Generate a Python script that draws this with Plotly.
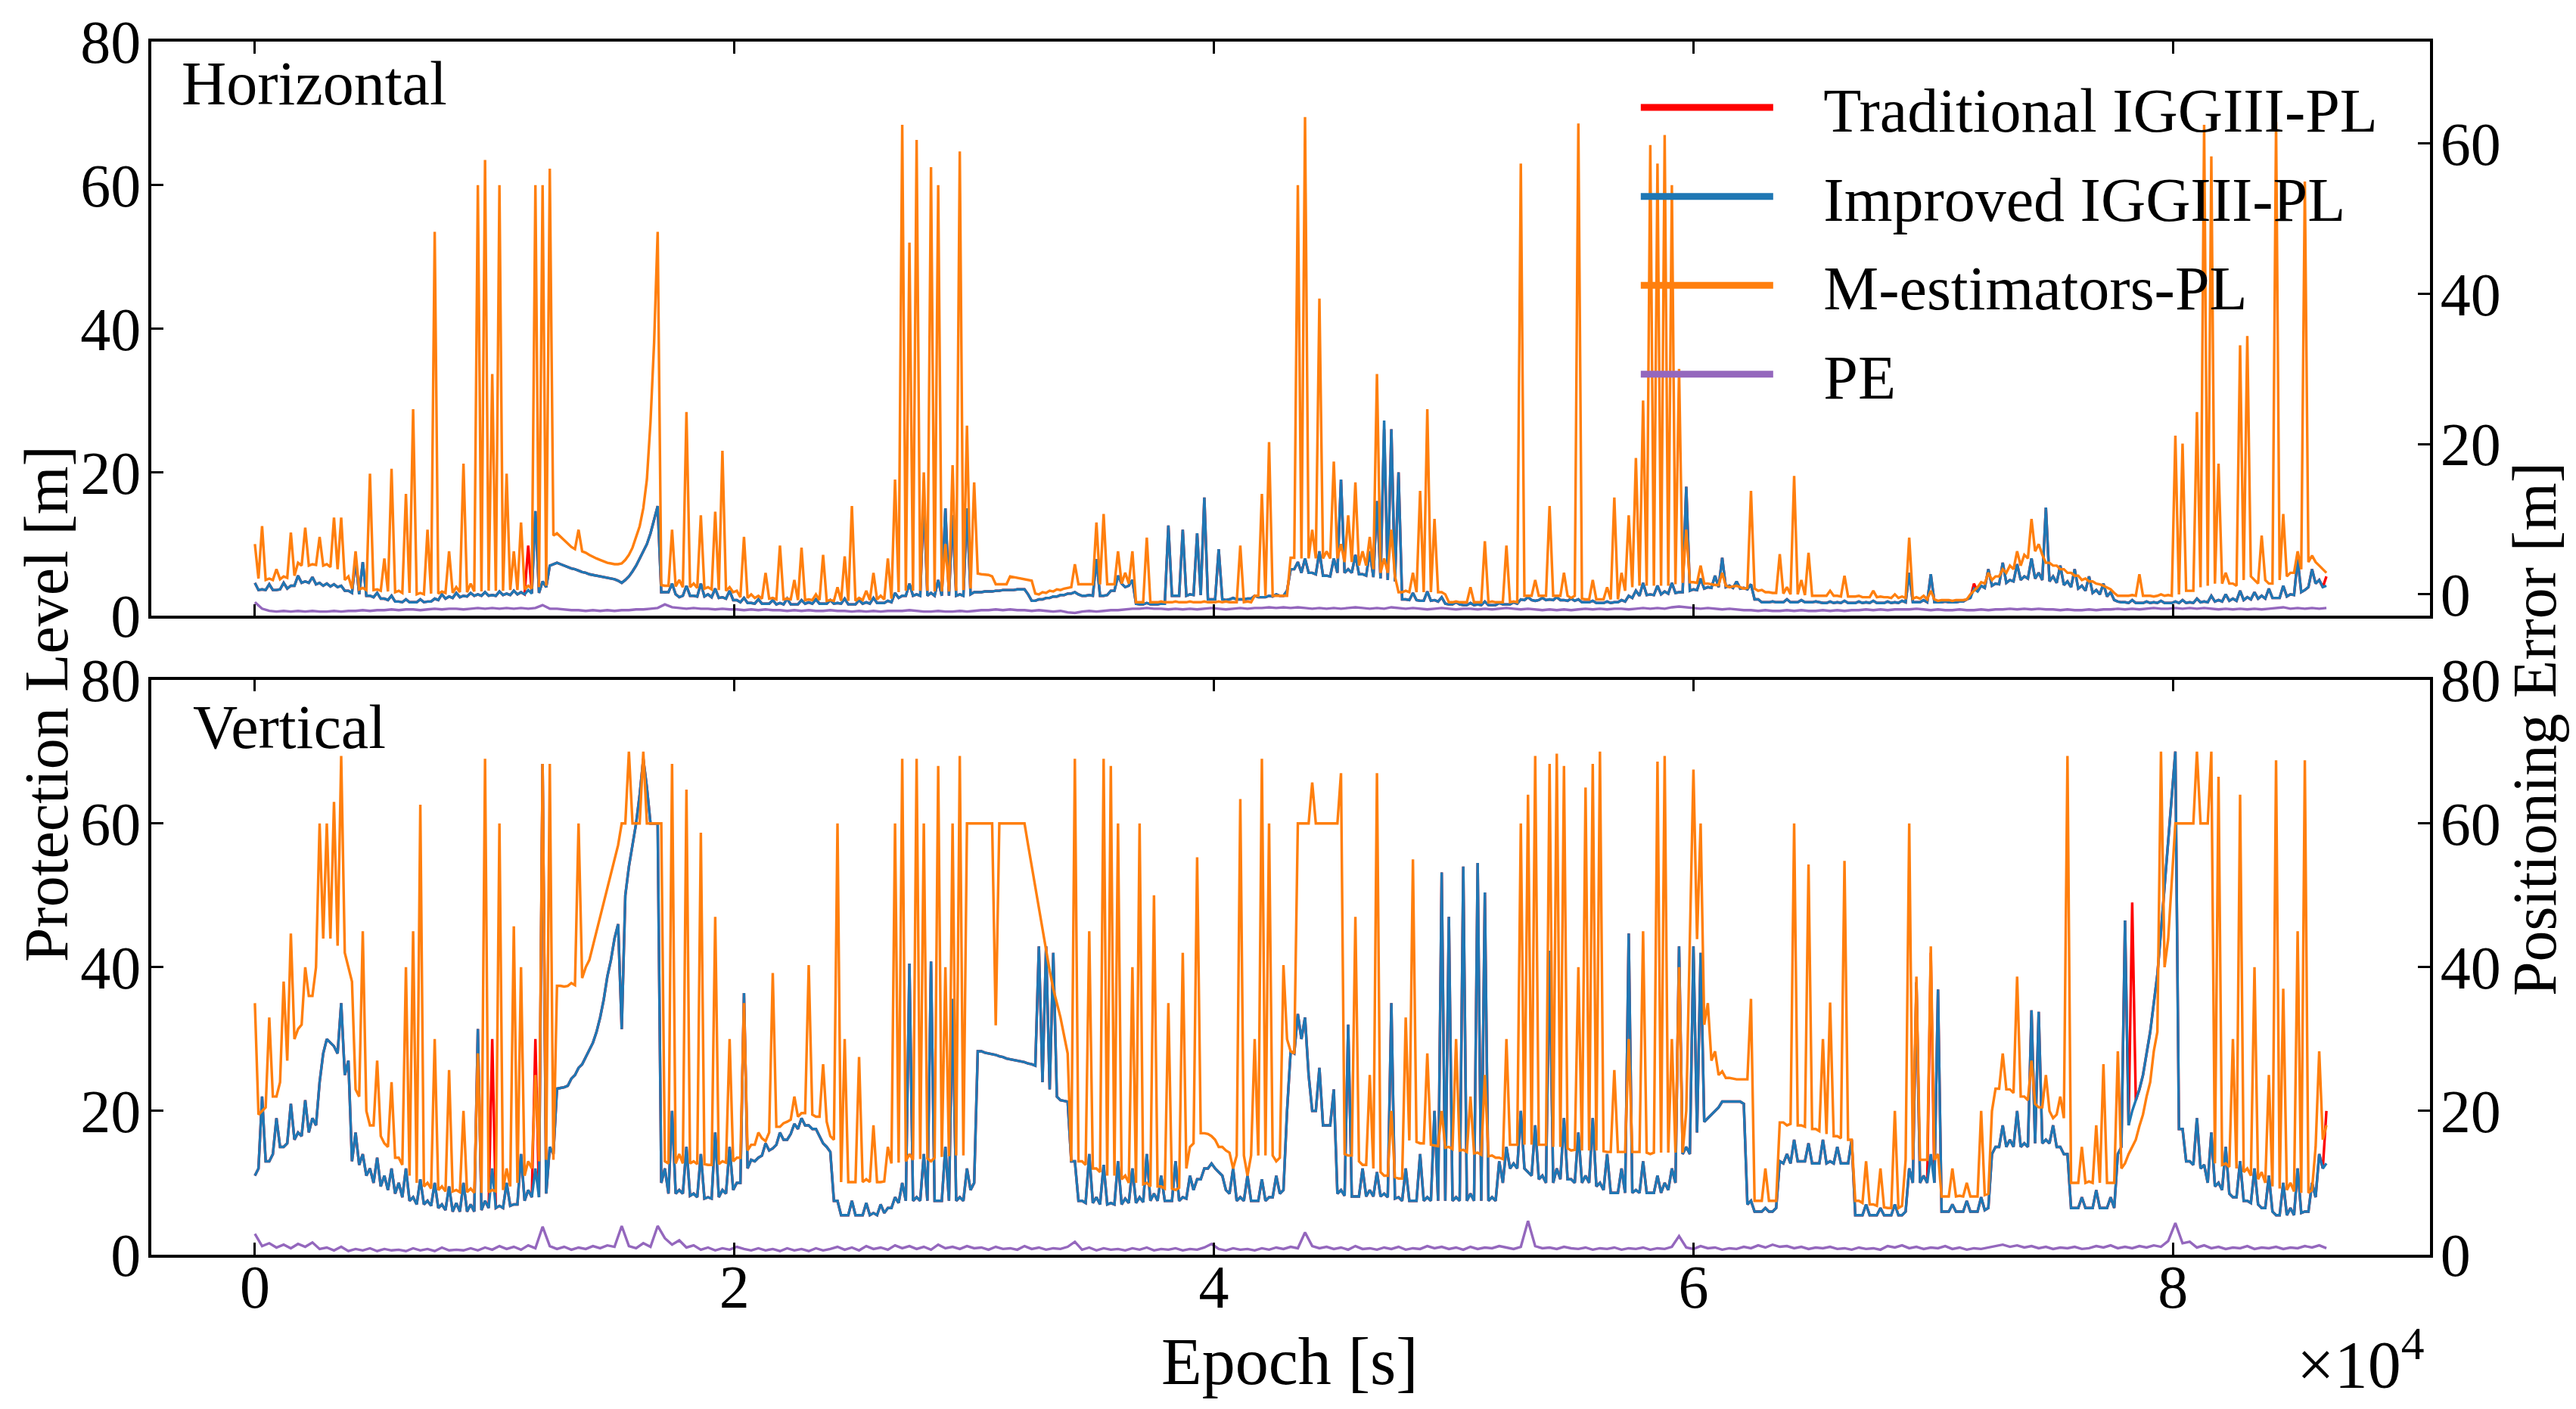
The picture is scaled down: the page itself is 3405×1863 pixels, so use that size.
import plotly.graph_objects as go

# Epoch grid [s] (main samples) and half-step samples between them
epoch = list(range(0, 86401, 300))
epoch_mid = list(range(150, 86400, 300))

# ---------------- Horizontal panel ----------------
trad_h = [
4.6, 3.7, 4.4, 3.6, 4.6, 4.2, 5.6, 4.8, 5.4, 4.6,
4.5, 4.4, 4.2, 3.5, 7.9, 7.5, 2.8, 3.2, 2.4, 2.8,
2, 2.3, 1.9, 2.3, 2, 2.4, 3, 2.7, 3.2, 2.8,
3.2, 3, 3.3, 2.9, 3.4, 3.1, 3.5, 3.3, 9.8, 14.6,
4.8, 7, 7.4, 7, 6.6, 6.3, 6, 5.7, 5.5, 5.3,
5.1, 4.6, 5.5, 7, 9, 11.5, 15.3, 3.3, 4.5, 2.6,
4.2, 2.8, 4.5, 3, 3.8, 2.6, 3.5, 2.2, 2.5, 1.8,
2.3, 1.7, 2.2, 1.8, 2.4, 1.6, 2.2, 1.9, 2.3, 1.7,
2.2, 1.8, 2.4, 1.6, 2.2, 1.9, 2.5, 1.8, 2.1, 3.2,
2.8, 4.5, 3, 16.5, 3.2, 5, 15, 14, 3, 15,
3.3, 3.3, 3.4, 3.5, 3.6, 3.6, 3.7, 3.7, 2.1, 2.3,
2.5, 2.7, 2.9, 3.1, 3.3, 2.8, 2.9, 7.9, 2.8, 3.5,
5.6, 4, 5, 1.6, 1.8, 1.6, 1.7, 12.6, 2.8, 12,
3, 11.5, 16.5, 2.3, 9.3, 2.2, 2.5, 2.3, 2.4, 2.8,
2.6, 2.8, 3, 2.8, 6.5, 7.5, 8, 6, 9, 5.6,
8, 19, 6.5, 8.5, 5.8, 9, 16, 26, 26, 20,
2.3, 3.2, 2.1, 3.4, 2.2, 2.6, 1.6, 1.9, 1.5, 1.8,
1.6, 2, 1.5, 1.8, 1.6, 1.9, 2.3, 2.6, 2.1, 2.5,
2.3, 2.6, 2.2, 2.4, 2.3, 1.9, 2.1, 1.8, 2, 1.9,
2.2, 2.8, 3.5, 4.6, 3, 4.2, 3.4, 4.6, 3.3, 18,
3.7, 5.2, 4, 5.6, 8.1, 4.2, 4.8, 3.9, 4.4, 2.3,
1.9, 2, 1.9, 2.3, 1.9, 2.2, 1.9, 2, 1.8, 2,
1.9, 2.1, 1.8, 2, 1.9, 2.1, 1.8, 2, 1.9, 2.1,
6, 1.9, 2.2, 5.8, 1.9, 2, 1.9, 2, 2.3, 4.5,
4.2, 6.5, 4.5, 7.4, 5, 7.2, 5.5, 8, 6, 15.1,
5.5, 7, 4.8, 6.5, 4.2, 5.5, 3.6, 4.5, 3.3, 2,
1.9, 2.2, 1.8, 2, 1.9, 2.1, 1.8, 2, 2.2, 1.9,
2.4, 2, 2.8, 2.2, 3, 2.4, 3.5, 2.6, 3.3, 2.8,
3.8, 2.5, 4.2, 3, 7.9, 3.6, 6.5, 5, 5.5]

improved_h = [
4.6, 3.7, 4.4, 3.6, 4.6, 4.2, 5.6, 4.8, 5.4, 4.6,
4.5, 4.4, 4.2, 3.5, 7.9, 7.5, 2.8, 3.2, 2.4, 2.8,
2, 2.3, 1.9, 2.3, 2, 2.4, 3, 2.7, 3.2, 2.8,
3.2, 3, 3.3, 2.9, 3.4, 3.1, 3.5, 3.3, 3.6, 14.6,
4.8, 7, 7.4, 7, 6.6, 6.3, 6, 5.7, 5.5, 5.3,
5.1, 4.6, 5.5, 7, 9, 11.5, 15.3, 3.3, 4.5, 2.6,
4.2, 2.8, 4.5, 3, 3.8, 2.6, 3.5, 2.2, 2.5, 1.8,
2.3, 1.7, 2.2, 1.8, 2.4, 1.6, 2.2, 1.9, 2.3, 1.7,
2.2, 1.8, 2.4, 1.6, 2.2, 1.9, 2.5, 1.8, 2.1, 3.2,
2.8, 4.5, 3, 16.5, 3.2, 5, 15, 14, 3, 15,
3.3, 3.3, 3.4, 3.5, 3.6, 3.6, 3.7, 3.7, 2.1, 2.3,
2.5, 2.7, 2.9, 3.1, 3.3, 2.8, 2.9, 7.9, 2.8, 3.5,
5.6, 4, 5, 1.6, 1.8, 1.6, 1.7, 12.6, 2.8, 12,
3, 11.5, 16.5, 2.3, 9.3, 2.2, 2.5, 2.3, 2.4, 2.8,
2.6, 2.8, 3, 2.8, 6.5, 7.5, 8, 6, 9, 5.6,
8, 19, 6.5, 8.5, 5.8, 9, 16, 27.2, 26, 20,
2.3, 3.2, 2.1, 3.4, 2.2, 2.6, 1.6, 1.9, 1.5, 1.8,
1.6, 2, 1.5, 1.8, 1.6, 1.9, 2.3, 2.6, 2.1, 2.5,
2.3, 2.6, 2.2, 2.4, 2.3, 1.9, 2.1, 1.8, 2, 1.9,
2.2, 2.8, 3.5, 4.6, 3, 4.2, 3.4, 4.6, 3.3, 18,
3.7, 5.2, 4, 5.6, 8.1, 4.2, 4.8, 3.9, 4.4, 2.3,
1.9, 2, 1.9, 2.3, 1.9, 2.2, 1.9, 2, 1.8, 2,
1.9, 2.1, 1.8, 2, 1.9, 2.1, 1.8, 2, 1.9, 2.1,
6, 1.9, 2.2, 5.8, 1.9, 2, 1.9, 2, 2.3, 3.8,
4.2, 6.5, 4.5, 7.4, 5, 7.2, 5.5, 8, 6, 15.1,
5.5, 7, 4.8, 6.5, 4.2, 5.5, 3.6, 4.5, 3.3, 2,
1.9, 2.2, 1.8, 2, 1.9, 2.1, 1.8, 2, 2.2, 1.9,
2.4, 2, 2.8, 2.2, 3, 2.4, 3.5, 2.6, 3.3, 2.8,
3.8, 2.5, 4.2, 3, 7.9, 3.6, 6.5, 5, 4.2]

# lower envelope of the Improved/Traditional band at the half-step epochs
improved_h_base = [
3.6, 3.6, 3.6, 3.7, 3.8, 4.2, 4.6, 4.6, 4.4, 4.2,
4.1, 4.0, 3.5, 3.2, 3.0, 2.8, 2.6, 2.4, 2.2, 2.0,
1.9, 1.9, 1.9, 1.9, 2.0, 2.2, 2.4, 2.5, 2.6, 2.7,
2.8, 2.8, 2.8, 2.8, 2.9, 2.9, 3.0, 3.0, 3.1, 3.2,
4.0, 7.2, 7.2, 6.8, 6.5, 6.1, 5.8, 5.6, 5.4, 5.2,
4.9, 5.0, 6.2, 8.0, 10, 13.5, 3.3, 3.3, 3.0, 2.8,
2.8, 2.7, 2.7, 2.6, 2.5, 2.4, 2.2, 1.9, 1.8, 1.7,
1.7, 1.7, 1.6, 1.6, 1.6, 1.6, 1.7, 1.7, 1.7, 1.7,
1.7, 1.7, 1.6, 1.6, 1.7, 1.7, 1.8, 1.8, 1.9, 2.5,
2.8, 2.8, 2.8, 2.8, 2.8, 2.8, 2.8, 2.8, 2.8, 3.0,
3.3, 3.4, 3.4, 3.5, 3.6, 3.6, 3.7, 3.0, 2.1, 2.3,
2.5, 2.7, 2.9, 3.1, 3.0, 2.8, 2.8, 2.8, 2.9, 3.5,
4.5, 4.2, 1.7, 1.6, 1.6, 1.6, 1.7, 2.8, 2.8, 2.8,
2.9, 2.9, 2.3, 2.3, 2.3, 2.3, 2.3, 2.3, 2.4, 2.6,
2.6, 2.7, 2.8, 3.5, 6.5, 6.0, 6.0, 5.8, 5.6, 5.5,
6.0, 6.0, 6.0, 5.8, 5.6, 5.4, 5.2, 5.0, 4.8, 2.3,
2.2, 2.2, 2.1, 2.1, 2.0, 1.7, 1.6, 1.6, 1.5, 1.5,
1.5, 1.5, 1.5, 1.6, 1.6, 1.7, 2.2, 2.2, 2.2, 2.2,
2.2, 2.2, 2.1, 2.1, 1.9, 1.9, 1.8, 1.8, 1.8, 1.9,
2.0, 2.5, 2.8, 2.9, 2.9, 3.0, 3.1, 3.2, 3.3, 3.5,
3.6, 3.8, 3.9, 4.0, 4.0, 3.9, 3.8, 3.7, 2.3, 1.9,
1.9, 1.9, 1.9, 1.9, 1.9, 1.9, 1.9, 1.9, 1.8, 1.8,
1.8, 1.8, 1.8, 1.8, 1.8, 1.8, 1.8, 1.8, 1.8, 1.9,
1.9, 1.9, 1.9, 1.9, 1.9, 1.9, 1.9, 2.0, 2.5, 3.4,
3.9, 4.2, 4.4, 4.6, 4.8, 5.0, 5.2, 5.2, 5.0, 4.8,
4.6, 4.3, 4.0, 3.8, 3.5, 3.2, 3.0, 2.7, 2.2, 1.9,
1.8, 1.8, 1.8, 1.8, 1.8, 1.8, 1.8, 1.8, 1.8, 1.8,
1.9, 1.9, 2.0, 2.0, 2.1, 2.1, 2.2, 2.3, 2.4, 2.4,
2.5, 2.5, 2.7, 2.9, 3.3, 4.0, 4.5, 4.0]

mest_h = [
10, 12.5, 5.2, 6.5, 5.5, 11.6, 7.4, 12.3, 7.2, 11,
7.2, 13.7, 13.7, 5.5, 9, 3.9, 19.8, 3.7, 8, 20.5,
3.5, 17, 28.8, 3.2, 12, 53.5, 3.4, 9, 4, 21.2,
4.5, 60, 63.5, 33.7, 60, 19.8, 9, 13, 4.2, 60,
60, 62.3, 11.5, 10.5, 9.6, 12, 8.8, 8.2, 7.8, 7.4,
7.2, 7.3, 8.5, 11, 15, 27, 53.5, 4.2, 12, 5,
28.4, 4.5, 14, 4, 14.5, 23, 4, 3.5, 11, 3,
2.8, 6, 2.5, 9.8, 2.4, 5, 9.5, 2.3, 3, 8.5,
2.2, 4, 8.3, 15.3, 2.5, 3.5, 6, 2.8, 8, 19,
68.4, 52, 66.3, 20, 62.5, 60, 10, 21, 64.7, 26.5,
18.6, 5.8, 5.7, 4.4, 4.4, 5.5, 5.3, 5.1, 4.9, 3.0,
3.2, 3.4, 3.6, 3.9, 7.2, 4.4, 4.4, 13, 14.2, 4.4,
9, 6, 9, 1.9, 10.9, 1.9, 2, 1.9, 2, 1.9,
2, 1.9, 2, 1.9, 2, 2, 1.9, 9.8, 2, 2.8,
17, 24.2, 2.8, 2.8, 8.1, 60, 69.5, 12, 44.2, 9,
21.5, 10, 14, 18.6, 9, 11, 33.7, 8, 12, 3.3,
3.5, 6, 17.4, 28.8, 13.5, 3.3, 1.9, 2, 1.9, 4,
1.9, 10.4, 2, 1.9, 9.8, 2, 63, 2.8, 5, 2.8,
15.3, 2.8, 6, 2.5, 68.6, 2.3, 5, 2.3, 4, 16.5,
6, 14, 22, 30, 65.6, 63, 67, 60, 34.4, 12,
4.7, 7, 4.5, 4.3, 6, 4, 4.2, 3.8, 17.4, 3.5,
3.3, 3.2, 8.6, 4, 19.5, 5, 8.8, 2.8, 2.8, 3.5,
2.8, 5.6, 2.7, 2.8, 2.6, 3.5, 2.7, 2.6, 3, 2.7,
10.9, 2.6, 2.8, 3.5, 2.1, 2.2, 2.1, 2.2, 2.3, 3.5,
4.7, 6, 5.5, 6.5, 7, 9, 8.5, 13.5, 10, 7.4,
7, 6.5, 6, 5.6, 5, 4.8, 4.5, 4.2, 3.7, 2.8,
2.8, 2.9, 5.8, 2.8, 2.7, 3, 2.9, 25.1, 24, 3.5,
28.4, 68.4, 64, 21.2, 6, 4.5, 37.7, 39, 5, 11.2,
4.5, 68.8, 14.2, 6, 9, 60.5, 8.4, 7, 6]

mest_h_base = [
5.2, 5.0, 5.0, 5.1, 5.3, 5.6, 7.0, 7.0, 7.1, 7.0,
6.8, 6.5, 5.0, 3.8, 3.7, 3.6, 3.6, 3.5, 3.4, 3.3,
3.2, 3.2, 3.0, 3.0, 3.1, 3.1, 3.2, 3.2, 3.3, 3.3,
3.4, 3.4, 3.5, 3.5, 3.5, 3.6, 3.6, 3.7, 3.8, 4.0,
4.2, 11.2, 11.0, 10.0, 9.3, 9.0, 8.5, 8.0, 7.6, 7.3,
7.2, 7.8, 9.5, 12.5, 19, 38, 4.3, 4.2, 4.1, 4.0,
4.0, 3.9, 3.8, 3.7, 3.6, 3.5, 3.3, 2.6, 2.5, 2.5,
2.4, 2.4, 2.3, 2.3, 2.3, 2.2, 2.2, 2.2, 2.2, 2.1,
2.1, 2.1, 2.1, 2.1, 2.2, 2.2, 2.3, 2.3, 2.4, 3.3,
3.5, 3.5, 3.5, 3.5, 3.4, 3.4, 3.4, 3.5, 3.6, 3.8,
5.9, 5.75, 5.5, 4.4, 4.4, 5.4, 5.2, 5.0, 3.1, 3.3,
3.5, 3.7, 3.8, 4.0, 4.4, 4.4, 4.4, 4.4, 4.4, 4.4,
4.5, 4.5, 1.9, 1.9, 1.9, 1.9, 1.9, 1.9, 1.9, 1.9,
1.9, 1.9, 1.9, 1.9, 1.9, 1.9, 1.9, 1.9, 1.9, 2.8,
2.8, 2.8, 2.8, 2.8, 8.1, 8.0, 8.0, 8.0, 8.0, 8.0,
8.0, 7.5, 7.5, 7.0, 7.0, 6.5, 6.0, 6.0, 5.5, 3.3,
3.3, 3.3, 3.3, 3.3, 3.3, 3.0, 1.9, 1.9, 1.9, 1.9,
1.9, 1.9, 1.9, 1.9, 1.9, 1.9, 2.8, 2.8, 2.8, 2.8,
2.8, 2.8, 2.8, 2.8, 2.4, 2.3, 2.3, 2.3, 2.3, 2.3,
3.5, 4.0, 4.2, 4.2, 4.2, 4.2, 4.2, 4.4, 4.6, 4.7,
4.6, 4.5, 4.4, 4.3, 4.2, 4.1, 4.0, 3.9, 3.8, 3.6,
3.3, 3.2, 3.1, 3.0, 3.0, 2.9, 2.8, 2.8, 2.8, 2.8,
2.7, 2.7, 2.7, 2.6, 2.6, 2.6, 2.6, 2.5, 2.5, 2.5,
2.4, 2.4, 2.3, 2.3, 2.2, 2.2, 2.2, 2.2, 3.0, 4.0,
4.5, 5.0, 5.5, 6.0, 6.5, 7.0, 8.0, 9.0, 8.5, 7.4,
7.0, 6.5, 6.0, 5.6, 5.2, 4.8, 4.4, 3.9, 3.2, 2.8,
2.8, 2.8, 2.8, 2.8, 2.8, 2.8, 2.8, 3.0, 3.5, 3.5,
4.0, 4.2, 4.5, 4.5, 4.5, 4.2, 5.0, 5.5, 4.5, 5.0,
4.5, 5.0, 5.5, 6.0, 6.5, 7.5, 7.5, 6.5]

pe_h = [
1.9, 1.0, 0.7, 0.6, 0.7, 0.6, 0.7, 0.6, 0.7, 0.6,
0.6, 0.7, 0.6, 0.7, 0.7, 0.8, 0.7, 0.8, 0.8, 0.9,
0.8, 0.9, 0.9, 0.8, 0.9, 1.0, 0.9, 1.0, 1.0, 0.9,
1.0, 1.1, 1.0, 1.1, 1.0, 1.1, 1.0, 1.1, 1.0, 1.1,
1.5, 1.0, 1.0, 0.9, 0.8, 0.8, 0.7, 0.8, 0.7, 0.8,
0.7, 0.8, 0.8, 0.9, 0.9, 1.0, 1.1, 1.6, 1.2, 1.1,
1.0, 1.1, 1.0, 1.0, 0.9, 1.0, 0.9, 0.9, 0.8, 0.9,
0.8, 0.9, 0.8, 0.8, 0.7, 0.8, 0.7, 0.8, 0.7, 0.7,
0.8, 0.7, 0.7, 0.6, 0.7, 0.6, 0.7, 0.6, 0.7, 0.7,
0.7, 0.8, 0.7, 0.6, 0.6, 0.7, 0.6, 0.6, 0.7, 0.6,
0.7, 0.8, 0.8, 0.9, 0.8, 0.9, 0.8, 0.8, 0.7, 0.8,
0.7, 0.6, 0.7, 0.5, 0.4, 0.6, 0.7, 0.6, 0.7, 0.8,
0.8, 0.9, 1.0, 1.0, 1.1, 1.0, 1.0, 0.9, 1.0, 0.9,
1.0, 0.9, 1.0, 1.1, 1.0, 0.9, 1.0, 1.1, 1.0, 1.1,
1.1, 1.2, 1.1, 1.2, 1.1, 1.2, 1.1, 1.0, 1.1, 1.0,
1.1, 1.0, 1.1, 1.2, 1.1, 1.0, 1.1, 1.0, 1.2, 1.1,
1.0, 1.1, 1.0, 0.9, 1.0, 1.1, 1.0, 0.9, 1.0, 1.0,
0.9, 1.0, 0.9, 1.0, 1.1, 1.0, 0.9, 1.0, 0.9, 0.8,
0.9, 0.8, 0.9, 0.8, 0.9, 1.0, 0.9, 1.0, 0.9, 1.0,
1.0, 0.9, 1.0, 1.1, 1.0, 1.1, 1.0, 1.2, 1.3, 1.2,
1.1, 1.0, 1.1, 1.0, 0.9, 1.0, 0.9, 0.8, 0.8, 0.7,
0.8, 0.7, 0.7, 0.8, 0.7, 0.8, 0.7, 0.7, 0.8, 0.7,
0.8, 0.7, 0.8, 0.8, 0.9, 0.8, 0.9, 0.8, 0.9, 0.9,
0.9, 1.0, 0.9, 0.8, 0.9, 0.8, 0.8, 0.9, 0.8, 0.8,
0.9, 0.8, 0.9, 0.9, 1.0, 0.9, 1.0, 0.9, 1.0, 0.9,
0.9, 0.8, 0.9, 0.8, 0.8, 0.9, 0.8, 0.9, 0.9, 1.0,
0.9, 1.0, 0.9, 1.0, 1.1, 1.0, 1.0, 1.1, 1.0, 1.1,
1.0, 1.1, 1.0, 0.9, 1.0, 0.9, 1.0, 0.9, 1.0, 0.9,
1.0, 1.1, 1.2, 1.0, 1.1, 1.0, 1.1, 1.0, 1.1]

# ---------------- Vertical panel ----------------
improved_v = [
11, 22, 13, 19, 15, 21, 17, 21.5, 19, 24,
30, 29, 35, 27, 17, 14, 12, 13.5, 11, 12,
10, 12, 8, 10.5, 7.5, 10, 7, 9.5, 7.2, 10,
7, 31.4, 7.5, 12, 6.8, 10, 7, 14, 9, 12,
68.3, 15, 23.1, 23.3, 24.5, 26, 27.5, 29.5, 33, 38.7,
44, 31.4, 54, 60, 69, 60, 60, 12, 20, 9,
15, 8.5, 14, 8, 17, 9, 15, 10, 36.4, 13.2,
13.5, 15.5, 14.8, 17, 16, 18.2, 19, 18, 17.5, 15.5,
14.3, 7.5, 5.5, 7.5, 5.5, 7.2, 5.8, 7, 6.5, 8,
10, 40.5, 8, 14, 40.8, 7.5, 15, 35.6, 8, 12,
10, 28.3, 28, 27.8, 27.5, 27.2, 27, 26.8, 26.5, 42.9,
42.9, 42, 21.5, 21.3, 13, 7.5, 14, 8, 12.5, 7.2,
13, 7.8, 12, 8, 14, 8.5, 11, 7.5, 13, 8,
11, 10.5, 12, 12.7, 11.5, 9, 12, 8, 11, 7.5,
10.5, 8, 11, 9, 28.3, 33.5, 33, 20, 26, 18,
23, 9, 32, 8.1, 12, 9, 11.5, 8.5, 35, 8,
12, 7.5, 14, 8, 20, 53.2, 47, 8, 54, 8.5,
54.5, 50.4, 8, 13, 15, 12.7, 20, 11.5, 18, 11,
42.3, 12, 19, 10.5, 17, 11, 19, 10, 14, 8.6,
12, 44.7, 9, 13, 8.6, 11, 10, 12, 42.9, 15,
42.9, 42, 19, 20, 21.3, 21.3, 21.3, 21, 7.5, 6,
6.5, 6, 13, 14, 16, 13, 15.5, 12.7, 16, 13,
15, 12.7, 16, 5.5, 7, 5.5, 6.5, 5.5, 7, 5.5,
12, 37.9, 11, 14, 36.9, 6, 7, 6, 7.5, 6,
8, 6.5, 15, 18, 16, 20, 15.5, 34, 33.8, 16,
18, 15, 14, 6.5, 8, 6.5, 9, 6.5, 8, 14,
46.5, 20, 23, 28, 35, 45, 58, 70, 17.5, 13,
19, 12.5, 17, 10, 15, 8, 13, 7.5, 12, 6.5,
11, 5.5, 10, 6.5, 12, 6, 10, 14, 12.7]

improved_v_base = [
12, 13, 14, 15, 15.5, 16, 16.5, 17, 18, 28,
29.5, 28, 25, 13, 12.5, 11, 10, 9.5, 9, 8.5,
8, 7.5, 7, 7, 6.8, 6.5, 6.2, 6, 6, 6,
6, 6.2, 6.5, 6.5, 6.5, 6.8, 7, 7.5, 8, 8,
8.5, 14, 23.2, 23.5, 25, 26.5, 28.5, 31, 35.5, 41,
46, 50, 57, 64, 65, 60, 10, 8.5, 8.5, 8.5,
8.2, 8, 7.8, 7.8, 8, 8.5, 9, 10, 12, 13,
13.8, 14.5, 15.3, 16, 16.8, 17.5, 18, 17.5, 16.5, 15,
7.5, 5.5, 5.5, 5.5, 5.5, 5.5, 5.5, 5.8, 6.5, 7.2,
7.5, 7.5, 7.5, 7.5, 7.5, 7.5, 7.5, 7.5, 7.5, 9,
28.3, 28.1, 27.9, 27.6, 27.3, 27.1, 26.9, 26.6, 26.3, 24,
23, 22, 21.4, 13, 7.5, 7.2, 7.2, 7, 7, 7,
7, 7.2, 7.2, 7.3, 7.5, 7.5, 7.5, 7.5, 7.5, 7.8,
9, 10.5, 12, 12, 11, 8.5, 7.5, 7.5, 7.5, 7.5,
7.5, 8, 8.5, 20, 28, 30, 25, 20, 18, 18,
8.5, 8.2, 8.1, 8.1, 8.1, 8.1, 8.1, 8, 7.8, 7.5,
7.5, 7.5, 7.5, 7.5, 7.5, 7.5, 7.5, 7.5, 7.5, 7.5,
7.5, 7.5, 7.5, 10, 12, 12, 12, 11, 10.5, 10,
10, 10.5, 10.5, 10, 10, 10, 9.5, 9, 8.6, 8.6,
8.6, 8.6, 8.6, 8.6, 8.6, 8.6, 9, 10, 14, 14,
17, 18.5, 19.5, 20.5, 21.3, 21.3, 21.3, 7, 6, 6,
6, 6.5, 12.7, 12.7, 13, 13, 12.7, 12.7, 12.7, 12.7,
12.7, 12.7, 5.5, 5.5, 5.5, 5.5, 5.5, 5.5, 5.5, 6,
10, 10, 10, 10, 6, 6, 6, 6, 6, 6,
6.2, 14, 15, 15, 15, 15, 15, 15.5, 15.5, 15.5,
15, 14, 6.5, 6.5, 6.5, 6.5, 6.5, 6.5, 6.5, 15,
18, 21.5, 25, 31, 39, 51, 64, 17.5, 13, 12.5,
12, 10, 9.5, 9, 8.5, 8, 7.5, 7.2, 7, 6.5,
6, 5.5, 5.5, 5.5, 5.8, 6, 8, 12]

trad_v = [
11, 22, 13, 19, 15, 21, 17, 21.5, 19, 24,
30, 29, 35, 27, 17, 14, 12, 13.5, 11, 12,
10, 12, 8, 10.5, 7.5, 10, 7, 9.5, 7.2, 10,
7, 31.4, 7.5, 30, 6.8, 10, 7, 14, 9, 30,
68.3, 15, 23.1, 23.3, 24.5, 26, 27.5, 29.5, 33, 38.7,
44, 31.4, 54, 60, 69, 60, 60, 12, 20, 9,
15, 8.5, 14, 8, 17, 9, 15, 10, 36.4, 13.2,
13.5, 15.5, 14.8, 17, 16, 18.2, 19, 18, 17.5, 15.5,
14.3, 7.5, 5.5, 7.5, 5.5, 7.2, 5.8, 7, 6.5, 8,
10, 40.5, 8, 14, 40.8, 7.5, 15, 35.6, 8, 12,
10, 28.3, 28, 27.8, 27.5, 27.2, 27, 26.8, 26.5, 42.9,
42.9, 42, 21.5, 21.3, 13, 7.5, 14, 8, 12.5, 7.2,
13, 7.8, 12, 8, 14, 8.5, 11, 7.5, 13, 8,
11, 10.5, 12, 12.7, 11.5, 9, 12, 8, 11, 7.5,
10.5, 8, 11, 9, 28.3, 33.5, 33, 20, 26, 18,
23, 9, 32, 8.1, 12, 9, 11.5, 8.5, 35, 8,
12, 7.5, 14, 8, 20, 53.2, 47, 8, 54, 8.5,
54.5, 50.4, 8, 13, 15, 12.7, 20, 11.5, 18, 11,
42.3, 12, 19, 10.5, 17, 11, 19, 10, 14, 8.6,
12, 44.7, 9, 13, 8.6, 11, 10, 12, 42.9, 15,
42.9, 42, 19, 20, 21.3, 21.3, 21.3, 21, 7.5, 6,
6.5, 6, 13, 14, 16, 13, 15.5, 12.7, 16, 13,
15, 12.7, 16, 5.5, 7, 5.5, 6.5, 5.5, 7, 5.5,
12, 37.9, 11, 42, 36.9, 6, 7, 6, 7.5, 6,
8, 6.5, 15, 18, 16, 20, 15.5, 34, 33.8, 16,
18, 15, 14, 6.5, 8, 6.5, 9, 6.5, 8, 14,
46.5, 49, 23, 28, 35, 45, 58, 70, 17.5, 13,
19, 12.5, 17, 10, 15, 8, 13, 7.5, 12, 6.5,
11, 5.5, 10, 6.5, 12, 6, 10, 14, 20]

mest_v = [
35, 20, 33, 22, 38, 44.7, 31.4, 40, 36, 60,
60, 63, 69.4, 40, 23, 45, 18, 27, 15.5, 24,
13.5, 40, 45, 62.6, 10, 30, 9.5, 25.7, 9, 20,
9.2, 28, 69, 9, 60, 12, 45.7, 40, 13, 25,
68.3, 68.3, 37.4, 37.3, 37.8, 60, 40, 43, 47, 51,
55, 60, 70, 60, 70, 60, 60, 13, 68.3, 14,
64.7, 13, 58.7, 12.5, 47, 13, 30, 13.5, 35, 15.3,
17, 15.8, 39.2, 17.8, 18.5, 22, 19.7, 40.3, 19.2, 26.5,
16.5, 60, 30, 10.1, 27.5, 10.5, 18, 10.1, 15, 60,
69, 14, 69, 60, 13, 68, 40, 60, 69.4, 60,
60, 60, 60, 31.9, 60, 60, 60, 60, 54, 48,
42, 37, 33, 28, 69, 13, 45, 12, 69, 68,
60, 11, 40, 60, 10, 50, 9.5, 35, 9, 42,
15, 55.3, 16.9, 16.5, 15, 14.5, 12, 63.4, 11, 30,
69, 60, 13, 40.3, 28.3, 60, 60, 65.7, 60, 60,
60, 67, 13.8, 47, 12.5, 25, 67, 11, 20, 10.6,
33, 55, 15.5, 28, 15.2, 20, 15, 30, 14.6, 22,
14.2, 25, 13.8, 13.5, 30, 15.3, 60, 64, 69.4, 15.3,
68.3, 69.7, 68, 14.5, 40, 65, 68.3, 70, 14.3, 25.7,
14.3, 30, 14.3, 45, 14, 68.6, 69.4, 30, 40, 20,
67.5, 60, 35, 28.3, 25.5, 24.6, 24.4, 24.4, 35.6, 7.5,
12, 7.5, 18.4, 18, 60, 18, 54.3, 17.5, 30, 35.1,
16.5, 54.8, 16, 7.5, 13, 7, 12, 6.5, 20, 6.8,
60, 38.7, 13.2, 42.9, 14, 8.1, 12, 8.2, 10, 8.1,
20, 8.5, 23.1, 28, 23, 38.7, 22, 27, 20.5, 25,
19, 22, 69.4, 10, 15, 10.2, 18, 26.5, 10, 28.3,
12.7, 15, 17.9, 22, 28.3, 70, 43.9, 60, 60, 60,
70, 60, 70, 66.5, 12.7, 30, 64, 12, 40, 11.5,
25, 68.8, 37, 10, 45, 68.8, 9, 28.3, 18]

mest_v_base = [
19.5, 20.5, 22, 24, 27, 30, 32, 36, 40, 44,
44, 43, 42, 38, 22, 20, 18, 16.5, 15, 13.5,
12.5, 11, 10, 9.5, 9.2, 9.0, 8.8, 8.8, 8.7, 8.7,
8.6, 8.6, 8.7, 8.8, 9, 9.5, 10, 11, 12, 13,
13.2, 13.2, 37.4, 37.4, 37.5, 38.5, 41, 45, 49, 53,
57, 60, 60, 60, 60, 60, 60, 12.7, 12.7, 12.7,
12.7, 12.6, 12.6, 12.5, 12.6, 12.8, 13, 13.5, 14.5, 15.3,
16.2, 17, 17.8, 18.3, 18.8, 19.2, 19.7, 19.5, 19.2, 18.5,
16, 10.1, 10.1, 10.1, 10.1, 10.1, 10.1, 10.2, 12.7, 12.8,
13, 13.2, 13.3, 13.4, 13.5, 13.6, 13.7, 13.8, 13.8, 60,
60, 60, 60, 60, 60, 60, 60, 57, 51, 45,
39.5, 35, 30.5, 13, 13, 12.5, 12, 11.5, 11, 11,
10.5, 10, 10, 9.8, 9.5, 9.5, 9.2, 9.2, 9.3, 12,
15.5, 16.9, 16.8, 16, 15, 14.2, 13.8, 13.8, 13.8, 13.8,
13.8, 13.8, 13.5, 30, 28, 60, 60, 60, 60, 60,
60, 14, 13.8, 13, 12.5, 12, 11.5, 11, 10.8, 10.6,
15.9, 15.7, 15.5, 15.3, 15.1, 14.9, 14.7, 14.5, 14.3, 14.1,
13.9, 13.7, 13.5, 13.3, 15.3, 15.3, 15.3, 15.3, 15.3, 15.3,
15, 15, 14.8, 14.6, 14.5, 14.5, 14.5, 14.4, 14.3, 14.3,
14.3, 14.3, 14.3, 14.2, 14.2, 14.2, 14.2, 14.2, 14.2, 43.9,
43.9, 32, 27, 25, 24.6, 24.5, 24.4, 24.4, 7.5, 7.5,
7.5, 7.5, 18.4, 18.2, 18, 17.8, 17.5, 17.2, 16.8, 16.5,
16.2, 16, 7.5, 7.2, 7, 6.8, 6.6, 6.5, 6.5, 13.2,
13.2, 13.2, 13.2, 13.2, 8.1, 8.1, 8.1, 8.1, 8.1, 8.1,
8.3, 20, 23.1, 23, 22.5, 22, 21.5, 21, 20.5, 20,
19.5, 19, 10, 10, 10, 10, 10, 10, 10, 12,
14, 16, 19.5, 24, 31, 40, 52, 60, 60, 60,
60, 60, 12.7, 12.5, 12.2, 12, 11.5, 11, 10.5, 10,
9.5, 9.2, 9, 8.8, 8.6, 8.6, 15, 16]

pe_v = [
2.9, 1.2, 1.6, 1.0, 1.4, 0.9, 1.5, 1.1, 1.7, 0.8,
1.0, 0.6, 1.1, 0.5, 0.8, 0.6, 0.9, 0.5, 0.8, 0.6,
0.7, 0.5, 0.9, 0.6, 0.8, 0.5, 1.0, 0.6, 0.7, 0.6,
0.9, 0.6, 1.0, 0.7, 1.2, 0.8, 1.1, 0.7, 1.3, 0.9,
3.9, 1.2, 0.8, 1.1, 0.7, 1.0, 0.8, 1.2, 0.9, 1.3,
1.1, 4.0, 1.2, 0.9, 1.6, 1.1, 4.0, 2.3, 1.4, 2.0,
1.0, 1.3, 0.7, 1.0, 0.6, 0.9, 0.7, 1.1, 0.8, 0.6,
0.9, 0.6, 0.8, 0.5, 0.9, 0.6, 0.8, 0.5, 0.9, 0.6,
0.8, 1.1, 0.7, 1.0, 0.6, 1.2, 0.8, 1.0, 0.7, 1.3,
0.9, 1.2, 0.8, 1.1, 0.7, 1.4, 0.9, 1.1, 0.8, 1.2,
0.9, 1.0, 0.7, 1.1, 0.8, 0.9, 0.7, 1.2, 0.8, 1.0,
0.7, 0.9, 0.8, 1.1, 1.8, 0.7, 1.0, 0.6, 0.9, 0.7,
0.8, 0.6, 0.9, 0.7, 1.0, 0.6, 0.8, 0.7, 0.9, 0.6,
0.8, 0.7, 1.0, 1.5, 0.8, 0.6, 0.9, 0.7, 0.8, 0.6,
0.9, 0.7, 1.0, 0.8, 1.1, 0.9, 3.1, 1.2, 0.9, 1.1,
0.8, 1.0, 0.7, 1.2, 0.8, 0.9, 0.7, 1.0, 0.8, 1.1,
0.7, 0.9, 0.8, 1.2, 0.9, 1.1, 0.8, 1.0, 0.7, 1.1,
0.8, 1.0, 0.9, 1.2, 1.0, 0.8, 1.1, 4.7, 1.2, 0.9,
1.0, 0.8, 1.1, 0.9, 0.8, 1.0, 0.7, 0.9, 0.8, 1.0,
0.7, 0.9, 0.8, 1.0, 0.7, 0.9, 0.8, 1.1, 2.6, 1.0,
0.8, 1.2, 0.9, 1.0, 0.7, 0.9, 0.8, 1.1, 0.9, 1.3,
1.0, 1.4, 1.1, 1.2, 0.9, 1.1, 0.8, 1.0, 0.9, 1.1,
0.8, 0.9, 0.7, 1.0, 0.8, 0.9, 0.7, 1.2, 1.0, 1.3,
0.9, 1.1, 0.8, 1.0, 0.9, 1.2, 0.8, 1.0, 0.7, 0.9,
0.8, 1.0, 1.2, 1.4, 1.1, 1.3, 1.0, 1.2, 0.9, 1.1,
0.8, 1.0, 0.9, 1.1, 0.8, 0.9, 1.2, 1.0, 1.3, 0.9,
1.1, 0.9, 1.2, 1.0, 1.3, 1.1, 1.9, 4.4, 1.6, 1.8,
1.0, 1.3, 0.9, 1.1, 0.8, 1.0, 0.9, 1.2, 0.8, 1.0,
0.9, 1.1, 0.8, 1.0, 0.9, 1.2, 1.0, 1.3, 0.9]

for name, arr, n in [("trad_h", trad_h, 289), ("improved_h", improved_h, 289), ("mest_h", mest_h, 289),
                     ("pe_h", pe_h, 289), ("trad_v", trad_v, 289), ("improved_v", improved_v, 289),
                     ("mest_v", mest_v, 289), ("pe_v", pe_v, 289), ("improved_h_base", improved_h_base, 288),
                     ("mest_h_base", mest_h_base, 288), ("improved_v_base", improved_v_base, 288),
                     ("mest_v_base", mest_v_base, 288)]:
    assert len(arr) == n, (name, len(arr))

series_names = ["Traditional IGGIII-PL", "Improved IGGIII-PL", "M-estimators-PL", "PE"]
series_colors = ["#ff0000", "#1f77b4", "#ff7f0e", "#9467bd"]
x_tickvals = [0, 20000, 40000, 60000, 80000]
x_ticktext = ["0", "2", "4", "6", "8"]
y_ticks = [0, 20, 40, 60, 80]
y2_ticks = [0, 20, 40, 60]


def merge(main_vals, mid_vals):
    """Combine the samples at the main epochs with those at the half-step epochs."""
    xs, ys = [], []
    for i, t in enumerate(epoch):
        xs.append(t)
        ys.append(main_vals[i])
        if i < len(epoch_mid):
            xs.append(epoch_mid[i])
            ys.append(mid_vals[i])
    return xs, ys


FONT = "Liberation Serif, Times New Roman, serif"
LW = 3.4

fig = go.Figure()

top = [merge(trad_h, improved_h_base), merge(improved_h, improved_h_base),
       merge(mest_h, mest_h_base), (epoch, pe_h)]
bot = [merge(trad_v, improved_v_base), merge(improved_v, improved_v_base),
       merge(mest_v, mest_v_base), (epoch, pe_v)]
for i in range(4):
    fig.add_trace(go.Scatter(x=top[i][0], y=top[i][1], mode="lines", xaxis="x2", yaxis="y",
                             line=dict(color=series_colors[i], width=LW), showlegend=False,
                             name=series_names[i]))
fig.add_trace(go.Scatter(x=[None], y=[None], xaxis="x2", yaxis="y2", showlegend=False,
                         mode="lines", hoverinfo="skip"))
for i in range(4):
    fig.add_trace(go.Scatter(x=bot[i][0], y=bot[i][1], mode="lines", xaxis="x",
                             yaxis=("y4" if i == 3 else "y3"),
                             line=dict(color=series_colors[i], width=LW), showlegend=False,
                             name=series_names[i]))
# legend entries (thicker legend lines)
for i in range(4):
    fig.add_trace(go.Scatter(x=[None], y=[None], mode="lines", xaxis="x2", yaxis="y",
                             line=dict(color=series_colors[i], width=9),
                             name="\u00a0\u00a0\u00a0" + series_names[i],
                             legendgroup=str(i), showlegend=True))

XR = [-4320, 90720]
axis_common = dict(showline=True, linecolor="black", linewidth=3.5, ticks="inside",
                   ticklen=16, tickwidth=3, tickcolor="black", showgrid=False, zeroline=False,
                   tickfont=dict(family=FONT, size=80, color="black"))

fig.update_layout(
    width=3405, height=1863,
    margin=dict(l=200, r=193, t=44, b=204),
    paper_bgcolor="white", plot_bgcolor="white",
    font=dict(family=FONT, size=80, color="black"),
    xaxis=dict(domain=[0, 1], anchor="y3", range=XR, tickvals=x_tickvals, ticktext=x_ticktext,
               mirror="ticks", ticklabelstandoff=-30, **axis_common),
    xaxis2=dict(domain=[0, 1], anchor="y", range=XR, tickvals=x_tickvals, showticklabels=False,
                matches="x", mirror="ticks", **axis_common),
    yaxis=dict(domain=[0.5266, 1], anchor="x2", range=[0, 80], tickvals=y_ticks, mirror=True,
               ticklabelstandoff=-6, **axis_common),
    yaxis2=dict(anchor="x2", overlaying="y", side="right", range=[-2.9, 73.6], tickvals=y2_ticks,
                ticklabelstandoff=-6, **axis_common),
    yaxis3=dict(domain=[0, 0.474], anchor="x", range=[0, 80], tickvals=y_ticks, mirror=True,
                ticklabelstandoff=-6, **axis_common),
    yaxis4=dict(anchor="x", overlaying="y3", side="right", range=[0, 80], tickvals=y_ticks,
                ticklabelstandoff=-6, **axis_common),
    legend=dict(x=0.652, y=0.983, xanchor="left", yanchor="top", bgcolor="rgba(0,0,0,0)",
                font=dict(family=FONT, size=82, color="black"), itemwidth=175,
                tracegroupgap=8, borderwidth=0),
    annotations=[
        dict(text="Horizontal", xref="paper", yref="paper", x=0.0127, y=0.9655, xanchor="left",
             yanchor="middle", showarrow=False, font=dict(family=FONT, size=82)),
        dict(text="Vertical", xref="paper", yref="paper", x=0.0177, y=0.435, xanchor="left",
             yanchor="middle", showarrow=False, font=dict(family=FONT, size=82)),
        dict(text="Protection Level [m]", xref="paper", yref="paper", x=-0.046, y=0.454,
             textangle=-90, showarrow=False, xanchor="center", yanchor="middle",
             font=dict(family=FONT, size=82)),
        dict(text="Positioning Error [m]", xref="paper", yref="paper", x=1.046, y=0.433,
             textangle=-90, showarrow=False, xanchor="center", yanchor="middle",
             font=dict(family=FONT, size=82)),
        dict(text="Epoch [s]", xref="paper", yref="paper", x=0.4997, y=-0.0885,
             showarrow=False, xanchor="center", yanchor="middle", font=dict(family=FONT, size=88)),
        dict(text="×10<sup>4</sup>", xref="paper", yref="paper", x=0.9695, y=-0.0865,
             showarrow=False, xanchor="center", yanchor="middle", font=dict(family=FONT, size=88)),
    ],
)

fig.write_html("out.html", config={"displayModeBar": False},
               post_script="document.body.style.margin='0px';")
